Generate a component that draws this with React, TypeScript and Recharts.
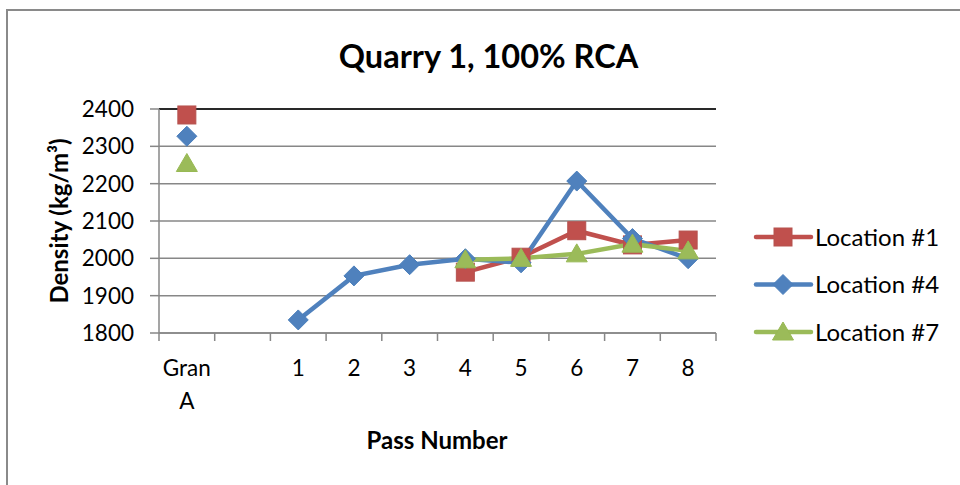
import React from 'react';
import { LineChart, Line, XAxis, YAxis, CartesianGrid, ReferenceLine, Legend } from 'recharts';

const categories = ['Gran A', '', '1', '2', '3', '4', '5', '6', '7', '8'];
const location1 = [2384, null, null, null, null, 1963, 2003, 2074, 2036, 2049];
const location4 = [2327, null, 1835, 1953, 1983, 1999, 1988, 2207, 2053, 1999];
const location7 = [2254, null, null, null, null, 1996, 2000, 2012, 2038, 2020];
const yTicks = [1800, 1900, 2000, 2100, 2200, 2300, 2400];

const seriesNames = ['Location #1', 'Location #4', 'Location #7'];
const seriesColors = ['#C0504D', '#4F81BD', '#9BBB59'];
const seriesStrokes = ['#B5524F', '#4A7EBB', '#98B954'];
const seriesShapes = ['square', 'diamond', 'triangle'];

const data = categories.map((name, i) => ({
  name,
  loc1: location1[i],
  loc4: location4[i],
  loc7: location7[i],
}));

const FONT = "Lato, 'Open Sans', sans-serif";
const W = 960;
const H = 485;
const MARGIN = { top: 109, right: 244, bottom: 52, left: 79 };
const Y_AXIS_W = 80;
const PLOT_W = W - MARGIN.left - Y_AXIS_W - MARGIN.right;
const BAND = PLOT_W / categories.length;
const GRAY = '#878787';

function markerShape(shape: string, cx: number, cy: number, fill: string, stroke: string, key?: string) {
  if (shape === 'square') {
    return <rect key={key} x={cx - 9} y={cy - 9} width={18} height={18} fill={fill} stroke={stroke} strokeWidth={1} />;
  }
  if (shape === 'diamond') {
    return (
      <polygon
        key={key}
        points={`${cx},${cy - 10} ${cx + 10},${cy} ${cx},${cy + 10} ${cx - 10},${cy}`}
        fill={fill}
        stroke={stroke}
        strokeWidth={1}
      />
    );
  }
  return (
    <polygon
      key={key}
      points={`${cx},${cy - 10} ${cx + 10.5},${cy + 8} ${cx - 10.5},${cy + 8}`}
      fill={fill}
      stroke={stroke}
      strokeWidth={1}
    />
  );
}

const makeDot = (s: number) => (props: any) => {
  const { cx, cy, index, value } = props;
  const key = `dot-${s}-${index}`;
  if (cx == null || cy == null || value == null || isNaN(cx) || isNaN(cy)) return <g key={key} />;
  return markerShape(seriesShapes[s], cx, cy, seriesColors[s], seriesStrokes[s], key);
};

const XTick = (props: any) => {
  const { x, y, payload, index } = props;
  const left = x - BAND / 2;
  const lines = String(payload.value).split(' ');
  return (
    <g>
      <line x1={left} x2={left} y1={y} y2={y + 8} stroke={GRAY} strokeWidth={1.5} />
      {index === categories.length - 1 && (
        <line x1={left + BAND} x2={left + BAND} y1={y} y2={y + 8} stroke={GRAY} strokeWidth={1.5} />
      )}
      <text x={x} y={y + 43} textAnchor="middle" fontSize={22.5} fontFamily={FONT} fill="#000">
        {lines.map((l, i) => (
          <tspan key={i} x={x} dy={i === 0 ? 0 : 33}>
            {l}
          </tspan>
        ))}
      </text>
    </g>
  );
};

const renderLegend = (props: any) => {
  const payload = props.payload || [];
  return (
    <svg width={215} height={140} style={{ display: 'block', overflow: 'visible' }}>
      {payload.map((entry: any, i: number) => {
        const s = seriesNames.indexOf(entry.value);
        const cy = 22 + i * 47.5;
        return (
          <g key={entry.value}>
            <line x1={11} x2={66} y1={cy} y2={cy} stroke={seriesColors[s]} strokeWidth={4.5} strokeLinecap="round" />
            {markerShape(seriesShapes[s], 38, cy, seriesColors[s], seriesStrokes[s])}
            <text x={70} y={cy + 8.5} fontSize={24} fontFamily={FONT} fill="#000">
              {entry.value}
            </text>
          </g>
        );
      })}
    </svg>
  );
};

export default function App() {
  return (
    <div
      style={{
        position: 'fixed',
        left: 0,
        top: 0,
        width: W,
        height: H,
        overflow: 'hidden',
        background: '#fff',
      }}
    >
      <div
        style={{
          position: 'absolute',
          left: 6,
          top: 9,
          width: 1200,
          height: 1200,
          border: '2px solid #8a8a8a',
          boxSizing: 'border-box',
        }}
      />
      <div style={{ position: 'absolute', left: 0, top: 0 }}>
        <LineChart width={W} height={H} data={data} margin={MARGIN}>
          <CartesianGrid horizontal vertical={false} stroke={GRAY} strokeWidth={1.5} />
          <XAxis
            dataKey="name"
            interval={0}
            tickLine={false}
            tickSize={0}
            tickMargin={0}
            height={100}
            padding={{ left: BAND / 2, right: BAND / 2 }}
            axisLine={{ stroke: GRAY, strokeWidth: 1.5 }}
            tick={<XTick />}
          />
          <YAxis
            width={Y_AXIS_W}
            domain={[1800, 2400]}
            ticks={yTicks}
            interval={0}
            tickSize={9}
            tickMargin={16}
            axisLine={{ stroke: GRAY, strokeWidth: 1.5 }}
            tickLine={{ stroke: GRAY, strokeWidth: 1.5 }}
            tick={{ fill: '#000', fontSize: 22.5, fontFamily: FONT }}
          />
          <YAxis
            yAxisId="r"
            orientation="right"
            width={0}
            domain={[1800, 2400]}
            tick={false}
            tickLine={false}
            axisLine={{ stroke: '#000', strokeWidth: 1.5 }}
          />
          <ReferenceLine y={2400} stroke="#000" strokeWidth={1.5} />
          <Legend
            layout="vertical"
            align="center"
            verticalAlign="middle"
            content={renderLegend}
            wrapperStyle={{ left: 745, top: 215, width: 215, height: 140 }}
          />
          {[0, 1, 2].map((s) => (
            <Line
              key={s}
              type="linear"
              dataKey={['loc1', 'loc4', 'loc7'][s]}
              name={seriesNames[s]}
              stroke={seriesColors[s]}
              strokeWidth={4.5}
              dot={makeDot(s)}
              activeDot={false}
              isAnimationActive={false}
            />
          ))}
        </LineChart>
      </div>
      <svg
        width={W}
        height={H}
        style={{ position: 'absolute', left: 0, top: 0, pointerEvents: 'none' }}
      >
        <text x={488.5} y={68} textAnchor="middle" fontSize={32.5} fontWeight="bold" fontFamily={FONT} fill="#000">
          Quarry 1, 100% RCA
        </text>
        <text x={437} y={449} textAnchor="middle" fontSize={24} fontWeight="bold" fontFamily={FONT} fill="#000">
          Pass Number
        </text>
        <text
          x={68}
          y={221}
          textAnchor="middle"
          fontSize={24}
          fontWeight="bold"
          fontFamily={FONT}
          fill="#000"
          transform="rotate(-90, 68, 221)"
        >
          Density (kg/m³)
        </text>
      </svg>
    </div>
  );
}
